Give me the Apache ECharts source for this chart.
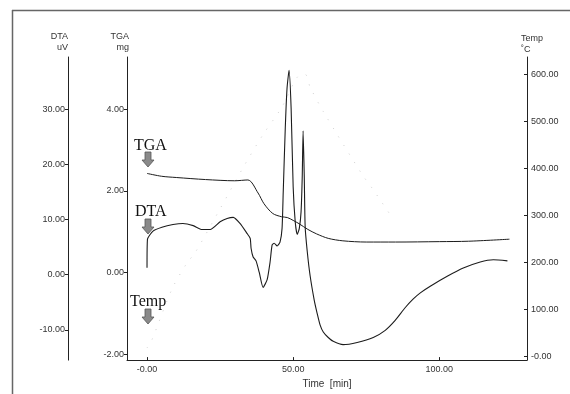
<!DOCTYPE html>
<html>
<head>
<meta charset="utf-8">
<script src="https://cdn.jsdelivr.net/npm/echarts@6/dist/echarts.min.js"></script>
<style>
html,body{margin:0;padding:0;background:#fff;}
#c{width:570px;height:394px;}
</style>
</head>
<body>
<div id="c"></div>
<script>
// ---- data ----
var tgaTime = [0, 5, 10, 20, 30, 34.5, 38, 40, 43, 46, 48, 50, 52, 55, 58, 62, 67, 75, 85, 100, 110, 124];
var tgaMass = [2.43, 2.36, 2.33, 2.28, 2.25, 2.27, 1.95, 1.69, 1.45, 1.37, 1.35, 1.28, 1.20, 1.06, 0.95, 0.84, 0.78, 0.75, 0.75, 0.76, 0.77, 0.82];

var dtaTime = [0, 0.15, 2.05, 5.1, 8.9, 12.3, 15.8, 18.8, 21.6, 25, 27.4, 29.5, 31.8, 34.2, 35.3, 35.6, 36.3, 37.3, 38.4, 39.7, 41.1, 42.1, 42.8, 43.5, 44.5, 45.5, 46.2, 46.6, 47.3, 47.9, 48.6, 49.3, 50, 50.7, 51.4, 52.1, 52.7, 53.1, 53.4, 53.8, 54.1, 54.8, 55.8, 57.2, 58.2, 59.2, 60.3, 62, 63.7, 67.1, 71.9, 77.4, 81.5, 84.9, 88.3, 91.1, 93.5, 96.9, 102.7, 108.2, 114, 118.5, 123.3];
var dtaSignal = [1.25, 6.4, 7.9, 8.6, 9.1, 9.3, 8.9, 8.2, 8.2, 9.6, 10.2, 10.4, 9.3, 7.5, 6.6, 4.8, 3.2, 2.5, 0.4, -2.3, -0.9, 2.3, 5.4, 5.7, 5.2, 5.9, 8.4, 15, 26.6, 33.8, 37.1, 30.2, 15.9, 9.6, 7.3, 8.4, 11.4, 17.7, 26.1, 17.7, 8.75, 4.3, -0.2, -4.6, -7.0, -9.1, -10.4, -11.4, -12.1, -12.7, -12.3, -11.4, -10.1, -8.3, -6.0, -4.4, -3.3, -2.1, -0.3, 1.2, 2.3, 2.7, 2.5];

var tempTime = [0, 1.4, 8.6, 13.7, 16.4, 25, 32.9, 39.4, 46.2, 51.4, 54.1, 55.8, 60.3, 73.6, 77, 83.9];
var tempValue = [18, 31, 144, 199, 220, 314, 402, 469, 531, 594, 600, 573, 521, 387, 358, 295];

var timeTicks = [0, 50, 100];
var timeTickLabels = ['-0.00', '50.00', '100.00'];
var dtaTicks = [-10, 0, 10, 20, 30];
var dtaTickLabels = ['-10.00', '0.00', '10.00', '20.00', '30.00'];
var tgaTicks = [-2, 0, 2, 4];
var tgaTickLabels = ['-2.00', '0.00', '2.00', '4.00'];
var tempTicks = [0, 100, 200, 300, 400, 500, 600];
var tempTickLabels = ['-0.00', '100.00', '200.00', '300.00', '400.00', '500.00', '600.00'];

function pairs(xs, ys){ return xs.map(function(x,i){ return [x, ys[i]]; }); }
function labelFor(ticks, labels){ return function(v){ var i = ticks.indexOf(Math.round(v*1000)/1000); return i>=0 ? labels[i] : ''; }; }

var axisColor = '#222';
var lblStyle = {color:'#333', fontSize:9, fontFamily:'Liberation Sans, Arial, sans-serif'};
var nameStyle = {color:'#333', fontSize:9, fontFamily:'Liberation Sans, Arial, sans-serif', lineHeight:11};

var chart = echarts.init(document.getElementById('c'), null, {renderer:'canvas'});

function downArrow(cx, top){
  return {
    type:'polygon', silent:true,
    shape:{points:[[cx-3,top],[cx+3,top],[cx+3,top+8],[cx+6,top+8],[cx,top+15],[cx-6,top+8],[cx-3,top+8]]},
    style:{fill:'#8a8a8a', stroke:'#555', lineWidth:0.8}
  };
}
var serif = {fill:'#111', font:'16px "Liberation Serif", "DejaVu Serif", serif'};

chart.setOption({
  animation:false,
  backgroundColor:'#fff',
  grid:{left:127, right:43, top:57, bottom:28, containLabel:false},
  xAxis:{
    type:'value', min:-6.85, max:130,
    name:'Time  [min]', nameLocation:'middle', nameGap:17,
    nameTextStyle:{color:'#333', fontSize:10, fontFamily:'Liberation Sans, Arial, sans-serif'},
    axisLine:{show:true, onZero:false, lineStyle:{color:axisColor, width:1}},
    axisTick:{show:true, inside:true, length:3, customValues:timeTicks, lineStyle:{color:axisColor}},
    axisLabel:{customValues:timeTicks, formatter:labelFor(timeTicks,timeTickLabels), margin:5, ...lblStyle},
    splitLine:{show:false}
  },
  yAxis:[
    {
      type:'value', position:'left', offset:0, min:-2.14, max:5.28,
      name:'TGA\nmg', nameLocation:'end', nameGap:4,
      nameTextStyle:{...nameStyle, align:'right', padding:[0,-2,0,0]},
      axisLine:{show:true, onZero:false, lineStyle:{color:axisColor, width:1}},
      axisTick:{show:true, length:3, customValues:tgaTicks, lineStyle:{color:axisColor}},
      axisLabel:{customValues:tgaTicks, formatter:labelFor(tgaTicks,tgaTickLabels), margin:3, ...lblStyle},
      splitLine:{show:false}
    },
    {
      type:'value', position:'left', offset:59, min:-15.5, max:39.5,
      name:'DTA\nuV', nameLocation:'end', nameGap:4,
      nameTextStyle:{...nameStyle, align:'right', padding:[0,0,0,0]},
      axisLine:{show:true, onZero:false, lineStyle:{color:axisColor, width:1}},
      axisTick:{show:true, length:3, customValues:dtaTicks, lineStyle:{color:axisColor}},
      axisLabel:{customValues:dtaTicks, formatter:labelFor(dtaTicks,dtaTickLabels), margin:3, ...lblStyle},
      splitLine:{show:false}
    },
    {
      type:'value', position:'right', offset:0, min:-8, max:637,
      name:'Temp\n\u02daC', nameLocation:'end', nameGap:2,
      nameTextStyle:{...nameStyle, align:'left', padding:[0,0,0,-6]},
      axisLine:{show:true, onZero:false, lineStyle:{color:axisColor, width:1}},
      axisTick:{show:true, inside:true, length:3, customValues:tempTicks, lineStyle:{color:axisColor}},
      axisLabel:{customValues:tempTicks, formatter:labelFor(tempTicks,tempTickLabels), margin:4, ...lblStyle},
      splitLine:{show:false}
    }
  ],
  series:[
    {type:'line', name:'Temp', yAxisIndex:2, data:pairs(tempTime,tempValue), showSymbol:false, smooth:0.3,
     lineStyle:{color:'#cfcfcf', width:1, type:[1,9]}, z:1},
    {type:'line', name:'TGA', yAxisIndex:0, data:pairs(tgaTime,tgaMass), showSymbol:false, smooth:0.3,
     lineStyle:{color:'#1c1c1c', width:1}, z:2},
    {type:'line', name:'DTA', yAxisIndex:1, data:pairs(dtaTime,dtaSignal), showSymbol:false, smooth:0.2,
     lineStyle:{color:'#1c1c1c', width:1.1}, z:3}
  ],
  graphic:[
    {type:'line', silent:true, shape:{x1:12, y1:10.5, x2:570, y2:10.5}, style:{stroke:'#666', lineWidth:1.5}},
    {type:'line', silent:true, shape:{x1:12.5, y1:10, x2:12.5, y2:394}, style:{stroke:'#666', lineWidth:1.5}},
    {type:'text', silent:true, x:134, y:138, style:{text:'TGA', ...serif}},
    downArrow(148, 152),
    {type:'text', silent:true, x:135, y:204, style:{text:'DTA', ...serif}},
    downArrow(148, 219),
    {type:'text', silent:true, x:130, y:294, style:{text:'Temp', ...serif}},
    downArrow(148, 309)
  ]
});
</script>
</body>
</html>
